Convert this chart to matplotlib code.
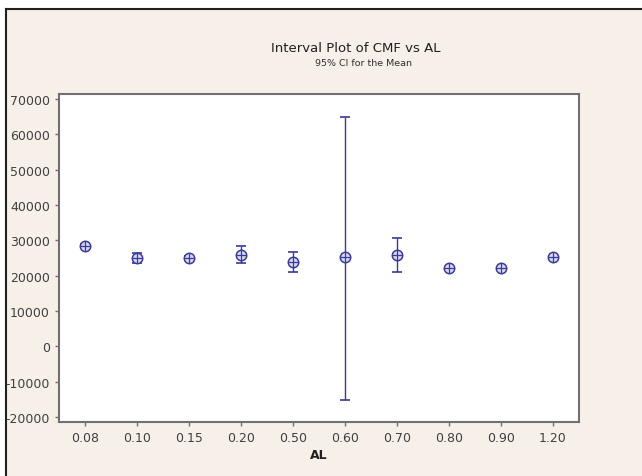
import numpy as np
import matplotlib
matplotlib.use("Agg")
import matplotlib.pyplot as plt
from matplotlib.patches import Rectangle

# AL 그룹별 CMF 평균과 95% 신뢰구간
al_levels = ["0.08", "0.10", "0.15", "0.20", "0.50", "0.60", "0.70", "0.80", "0.90", "1.20"]
cmf_mean = [28500, 25000, 25000, 25900, 23800, 25200, 25800, 22100, 22100, 25200]
ci_lower = [28000, 23500, 24500, 23500, 21000, -15100, 21100, 21700, 21700, 24800]
ci_upper = [29000, 26400, 25500, 28300, 26600, 65000, 30700, 22500, 22500, 25600]
y_ticks = [-20000, -10000, 0, 10000, 20000, 30000, 40000, 50000, 60000, 70000]

navy = "#3a3a9a"
bg = "#f6f0e8"

fig = plt.figure(figsize=(6.42, 4.77), dpi=100)
fig.patch.set_facecolor("white")

# Minitab 그래프 창 배경 (위/왼쪽만 검은 테두리)
fig.patches.append(Rectangle((6 / 642, 0), 1, 1 - 10 / 477, transform=fig.transFigure,
                             facecolor=bg, edgecolor="none", zorder=-5))
fig.add_artist(plt.Line2D([6 / 642, 1], [1 - 10 / 477] * 2, transform=fig.transFigure,
                          color="#202020", lw=1.5, zorder=-4))
fig.add_artist(plt.Line2D([6 / 642] * 2, [0, 1 - 10 / 477], transform=fig.transFigure,
                          color="#202020", lw=1.5, zorder=-4))

ax = fig.add_axes([59 / 642, 1 - 423 / 477, 520 / 642, 328 / 477])
ax.set_facecolor("white")

x = np.arange(len(al_levels))
mean = np.array(cmf_mean)
err = np.vstack([mean - np.array(ci_lower), np.array(ci_upper) - mean])

# 신뢰구간 막대
ax.errorbar(x, mean, yerr=err, fmt="none", ecolor=navy, elinewidth=1.0,
            capsize=3.3, capthick=1.2, zorder=2)
# 평균 기호: 원 + 십자
ax.plot(x, mean, "o", ms=7.5, mfc="#d8d8f4", mec=navy, mew=1.1, zorder=3)
ax.plot(x, mean, "+", ms=7.5, color=navy, mew=0.9, zorder=4)

ax.set_xlim(-0.5, len(al_levels) - 0.5)
ax.set_ylim(-21400, 71400)
ax.set_xticks(x)
ax.set_xticklabels(al_levels)
ax.set_yticks(y_ticks)
ax.set_yticklabels([str(v) for v in y_ticks])

for s in ax.spines.values():
    s.set_color("#707070")
    s.set_linewidth(1.5)
ax.tick_params(axis="both", colors="#707070", labelcolor="#404040", labelsize=9,
               length=3, width=1)

ax.set_xlabel("AL", fontsize=9, fontweight="bold", color="#202020", labelpad=3)

fig.text(356 / 642, 1 - 49 / 477, "Interval Plot of CMF vs AL", ha="center", va="center",
         fontsize=9.5, color="#202020")
fig.text(364 / 642, 1 - 63 / 477, "95% CI for the Mean", ha="center", va="center",
         fontsize=6.8, color="#303030")

fig.savefig("out.png", dpi=100, facecolor=fig.get_facecolor())
